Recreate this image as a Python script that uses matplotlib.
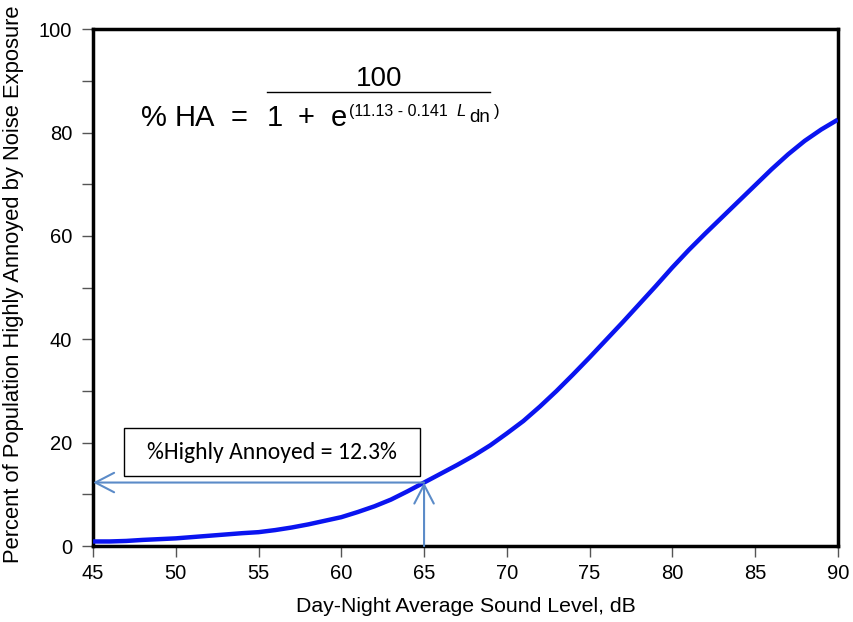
import numpy as np
import matplotlib
matplotlib.use('Agg')
import matplotlib.pyplot as plt
from matplotlib.patches import Rectangle

# values
ldn = [45, 46, 47, 48, 50, 52, 54, 55, 56, 57, 58, 59, 60, 61, 62, 63, 64, 65,
       66, 67, 68, 69, 70, 71, 72, 73, 74, 75, 76, 77, 78, 79, 80,
       81, 82, 83, 84, 85, 86, 87, 88, 89, 90]
pct_ha = [0.9, 0.9, 1.0, 1.2, 1.5, 2.0, 2.5, 2.7, 3.1, 3.6, 4.2, 4.9, 5.6, 6.6, 7.7, 9.0, 10.6, 12.3,
          14.0, 15.7, 17.5, 19.5, 21.8, 24.2, 27.0, 30.0, 33.2, 36.5, 39.9, 43.3, 46.8, 50.3, 53.9,
          57.3, 60.5, 63.6, 66.7, 69.8, 72.9, 75.8, 78.4, 80.6, 82.5]

x_ticks = [45, 50, 55, 60, 65, 70, 75, 80, 85, 90]
y_ticks = [0, 20, 40, 60, 80, 100]
y_minor = [10, 30, 50, 70, 90]

ref_ldn = 65
ref_pct = 12.3

plt.rcParams['font.family'] = ['Liberation Sans', 'DejaVu Sans']

fig = plt.figure(figsize=(8.54, 6.22), dpi=100)
ax = fig.add_axes([0.109, 0.122, 0.872, 0.831])

ax.plot(ldn, pct_ha, color='#0a14f0', lw=3.2, solid_capstyle='butt', solid_joinstyle='round', zorder=3)

arrow_col = '#5b8bc8'
head = '->,head_length=1.35,head_width=0.7'
ax.annotate('', xy=(45, ref_pct), xytext=(ref_ldn, ref_pct),
            arrowprops=dict(arrowstyle=head, color=arrow_col, lw=1.5, shrinkA=0, shrinkB=0))
ax.annotate('', xy=(ref_ldn, ref_pct), xytext=(ref_ldn, 0),
            arrowprops=dict(arrowstyle=head, color=arrow_col, lw=1.5, shrinkA=0, shrinkB=0))

# text box
ax.add_patch(Rectangle((46.87, 13.5), 17.88, 9.3, fc='white', ec='black', lw=1, zorder=4))
ax.text(55.8, 18.2, '%Highly Annoyed = 12.3%', ha='center', va='center', fontsize=17,
        family=['Carlito', 'Lato', 'DejaVu Sans'], zorder=5)

# formula
ax.text(62.3, 89.0, '100', ha='center', va='baseline', fontsize=20)
ax.plot([55.5, 69.0], [87.8, 87.8], color='black', lw=1, clip_on=False)
for xp, s in [(47.9, '%'), (49.95, 'HA'), (53.3, '='), (55.5, '1'), (57.35, '+'), (59.35, 'e')]:
    ax.text(xp, 81.2, s, ha='left', va='baseline', fontsize=21)
ax.text(60.45, 83.2, '(11.13 - 0.141', ha='left', va='baseline', fontsize=11.5)
ax.text(66.95, 83.2, 'L', ha='left', va='baseline', fontsize=12, style='italic')
ax.text(67.75, 82.0, 'dn', ha='left', va='baseline', fontsize=13.5)
ax.text(69.25, 83.2, ')', ha='left', va='baseline', fontsize=12)

ax.set_xlim(45, 90)
ax.set_ylim(0, 100)
ax.set_xticks(x_ticks)
ax.set_yticks(y_ticks)
ax.set_yticks(y_minor, minor=True)
ax.tick_params(axis='both', which='both', direction='out', color='#555555', labelsize=14.5, width=1)
ax.tick_params(axis='both', which='major', length=8)
ax.tick_params(axis='y', which='both', length=8, pad=7)
ax.tick_params(axis='x', which='major', pad=5)
for s in ax.spines.values():
    s.set_linewidth(2.5)

ax.set_xlabel('Day-Night Average Sound Level, dB', fontsize=15.3)
ax.xaxis.set_label_coords(0.5, -0.098)
ax.set_ylabel('Percent of Population Highly Annoyed by Noise Exposure', fontsize=15.8)
ax.yaxis.set_label_coords(-0.0926, 0.507)

fig.savefig('out.png', dpi=100)
